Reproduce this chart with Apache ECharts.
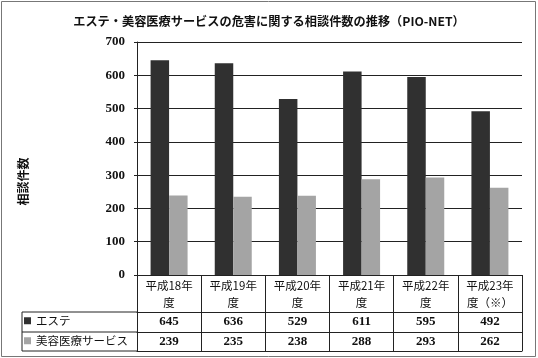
<!DOCTYPE html>
<html>
<head>
<meta charset="utf-8">
<script src="https://cdn.jsdelivr.net/npm/echarts@6/dist/echarts.min.js"></script>
<style>
html,body{margin:0;padding:0;background:#fff;}
#c{width:538px;height:358px;}
</style>
</head>
<body>
<div id="c"></div>
<script>
var categories = ['平成18年\n度', '平成19年\n度', '平成20年\n度', '平成21年\n度', '平成22年\n度', '平成23年\n度（※）'];
var seriesNames = ['エステ', '美容医療サービス'];
var esthe = [645, 636, 529, 611, 595, 492];
var beauty = [239, 235, 238, 288, 293, 262];
var yMin = 0, yMax = 700, yStep = 100;
var titleText = 'エステ・美容医療サービスの危害に関する相談件数の推移（PIO-NET）';
var yName = '相談件数';

var G = {left: 137, right: 16, top: 42, bottom: 83};
var W = 538, H = 358;
var axisY = H - G.bottom;           // 275
var row1 = axisY + 37, row2 = axisY + 57, row3 = axisY + 76;
var tableLeft = 22;
var serif = "'Liberation Serif', 'Noto Sans CJK JP', serif";
var cjk = "'Noto Sans CJK JP', sans-serif";
var lineC = '#222';

var chart = echarts.init(document.getElementById('c'), null, {renderer: 'canvas'});

function valueAxis(arr, off, margin, showLine) {
  return {
    type: 'category', data: categories, position: 'bottom', offset: off, gridIndex: 0,
    axisLine: {show: showLine, lineStyle: {color: lineC, width: 1}},
    axisTick: {show: false},
    axisLabel: arr ? {
      show: true, margin: margin, interval: 0,
      formatter: function (v, i) { return String(arr[i]); },
      fontFamily: serif, fontWeight: 'bold', fontSize: 13, lineHeight: 14, color: '#111'
    } : {show: false},
    splitLine: {show: false}
  };
}

chart.setOption({
  animation: false,
  backgroundColor: '#fff',
  title: {
    text: titleText, left: 'center', top: 10,
    textStyle: {fontFamily: cjk, fontWeight: 'bold', fontSize: 12.2, color: '#111'}
  },
  legend: [
    {data: [seriesNames[0]], left: tableLeft + 2, top: row1 + 3, icon: 'rect', itemWidth: 7, itemHeight: 7,
     selectedMode: false, padding: 0, textStyle: {fontFamily: cjk, fontSize: 11.5, color: '#111'}},
    {data: [seriesNames[1]], left: tableLeft + 2, top: row2 + 3, icon: 'rect', itemWidth: 7, itemHeight: 7,
     selectedMode: false, padding: 0, textStyle: {fontFamily: cjk, fontSize: 11.5, color: '#111'}}
  ],
  grid: {left: G.left, right: G.right, top: G.top, bottom: G.bottom, containLabel: false},
  xAxis: [
    {
      type: 'category', data: categories, position: 'bottom', gridIndex: 0,
      axisLine: {show: true, lineStyle: {color: lineC, width: 1}},
      axisTick: {show: true, alignWithLabel: false, length: row3 - axisY, lineStyle: {color: lineC, width: 1}},
      axisLabel: {show: true, interval: 0, margin: 2, fontFamily: cjk, fontSize: 11.5, lineHeight: 17, color: '#111'},
      splitLine: {show: false}
    },
    valueAxis(esthe, row1 - axisY, 3, true),
    valueAxis(beauty, row2 - axisY, 2.5, true),
    valueAxis(null, row3 - axisY, 0, true)
  ],
  yAxis: {
    type: 'value', min: yMin, max: yMax, interval: yStep,
    name: yName, nameLocation: 'middle', nameGap: 108, nameRotate: 90,
    nameTextStyle: {fontFamily: cjk, fontWeight: 'bold', fontSize: 12, color: '#111', padding: [0, 46, 0, 0]},
    axisLine: {show: true, lineStyle: {color: lineC, width: 1}},
    axisTick: {show: true, length: 3, lineStyle: {color: lineC}},
    axisLabel: {margin: 12, fontFamily: serif, fontWeight: 'bold', fontSize: 13, color: '#111'},
    splitLine: {show: true, lineStyle: {color: lineC, width: 1}}
  },
  series: [
    {name: seriesNames[0], type: 'bar', data: esthe, barWidth: 18.5, barGap: '0%',
     itemStyle: {color: '#303030'}},
    {name: seriesNames[1], type: 'bar', data: beauty, barWidth: 18.5, barGap: '0%',
     itemStyle: {color: '#a4a4a4'}}
  ],
  graphic: [
    {type: 'rect', shape: {x: 1.5, y: 1.5, width: W - 4, height: H - 3}, style: {fill: null, stroke: '#777', lineWidth: 1}, silent: true},
    {type: 'line', shape: {x1: tableLeft, y1: row1, x2: G.left, y2: row1}, style: {stroke: lineC, lineWidth: 1}},
    {type: 'line', shape: {x1: tableLeft, y1: row2, x2: G.left, y2: row2}, style: {stroke: lineC, lineWidth: 1}},
    {type: 'line', shape: {x1: tableLeft, y1: row3, x2: G.left, y2: row3}, style: {stroke: lineC, lineWidth: 1}},
    {type: 'line', shape: {x1: tableLeft, y1: row1, x2: tableLeft, y2: row3}, style: {stroke: lineC, lineWidth: 1}}
  ]
});
</script>
</body>
</html>
